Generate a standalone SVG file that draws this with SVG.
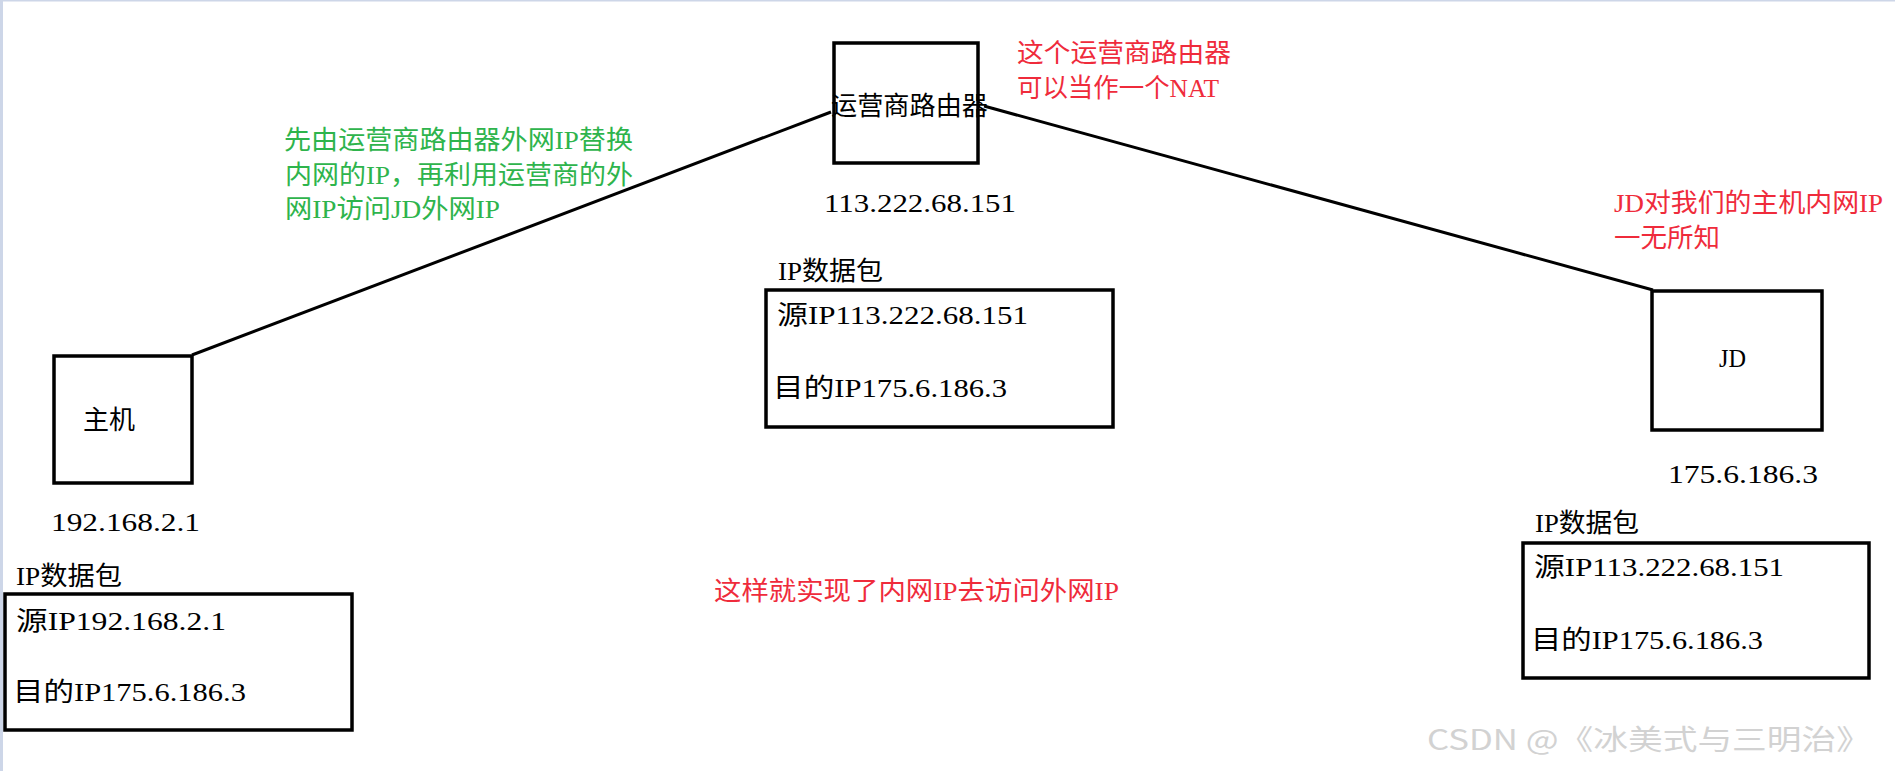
<svg xmlns="http://www.w3.org/2000/svg" width="1895" height="771" viewBox="0 0 1895 771">
<style>
.t{font-family:"Liberation Serif","Noto Sans CJK SC",serif;font-size:26px;fill:#000}
.g{fill:#2eb44c}
.r{fill:#ef2b3b}
.box{fill:none;stroke:#000;stroke-width:3.5}
.ln{stroke:#000;stroke-width:3;fill:none}
.wm{font-family:"Noto Sans CJK SC","Liberation Sans",sans-serif;font-size:28px;fill:#d2d2d2}
</style>
<rect x="0" y="0" width="1895" height="771" fill="#fff"/>
<rect x="0" y="0" width="3" height="771" fill="#cdd6e8"/>
<rect x="0" y="0" width="1895" height="1.5" fill="#cdd6e8"/>
<g id="connectors">
<line class="ln" x1="192" y1="355" x2="831" y2="112"/>
<line class="ln" x1="984" y1="106" x2="1653" y2="290"/>
</g>
<g id="host">
<rect class="box" x="54" y="356" width="138" height="127"/>
<text class="t" x="83" y="429" textLength="52" lengthAdjust="spacingAndGlyphs">主机</text>
<text class="t" x="51" y="531" textLength="149" lengthAdjust="spacingAndGlyphs">192.168.2.1</text>
</g>
<g id="router">
<rect class="box" x="834" y="43" width="144" height="120"/>
<text class="t" x="831" y="115" textLength="157" lengthAdjust="spacingAndGlyphs">运营商路由器</text>
<text class="t" x="824" y="212" textLength="192" lengthAdjust="spacingAndGlyphs">113.222.68.151</text>
</g>
<g id="jd">
<rect class="box" x="1652" y="291" width="170" height="139"/>
<text class="t" x="1719" y="367" textLength="27" lengthAdjust="spacingAndGlyphs">JD</text>
<text class="t" x="1668" y="483" textLength="150" lengthAdjust="spacingAndGlyphs">175.6.186.3</text>
</g>
<g id="note-green">
<text class="t g" x="284" y="149" textLength="349" lengthAdjust="spacingAndGlyphs">先由运营商路由器外网IP替换</text>
<text class="t g" x="285" y="184" textLength="348" lengthAdjust="spacingAndGlyphs">内网的IP，再利用运营商的外</text>
<text class="t g" x="285" y="218" textLength="215" lengthAdjust="spacingAndGlyphs">网IP访问JD外网IP</text>
</g>
<g id="note-router">
<text class="t r" x="1017" y="62" textLength="214" lengthAdjust="spacingAndGlyphs">这个运营商路由器</text>
<text class="t r" x="1017" y="97" textLength="202" lengthAdjust="spacingAndGlyphs">可以当作一个NAT</text>
</g>
<g id="note-jd">
<text class="t r" x="1614" y="212" textLength="269" lengthAdjust="spacingAndGlyphs">JD对我们的主机内网IP</text>
<text class="t r" x="1614" y="247" textLength="106" lengthAdjust="spacingAndGlyphs">一无所知</text>
</g>
<g id="note-bottom">
<text class="t r" x="714" y="600" textLength="405" lengthAdjust="spacingAndGlyphs">这样就实现了内网IP去访问外网IP</text>
</g>
<g id="packet-host">
<text class="t" x="16" y="585" textLength="106" lengthAdjust="spacingAndGlyphs">IP数据包</text>
<rect class="box" x="5" y="594" width="347" height="136"/>
<text class="t" x="16" y="630" textLength="210" lengthAdjust="spacingAndGlyphs">源IP192.168.2.1</text>
<text class="t" x="13" y="701" textLength="233" lengthAdjust="spacingAndGlyphs">目的IP175.6.186.3</text>
</g>
<g id="packet-router">
<text class="t" x="778" y="280" textLength="105" lengthAdjust="spacingAndGlyphs">IP数据包</text>
<rect class="box" x="766" y="290" width="347" height="137"/>
<text class="t" x="777" y="324" textLength="251" lengthAdjust="spacingAndGlyphs">源IP113.222.68.151</text>
<text class="t" x="773" y="397" textLength="234" lengthAdjust="spacingAndGlyphs">目的IP175.6.186.3</text>
</g>
<g id="packet-jd">
<text class="t" x="1535" y="532" textLength="104" lengthAdjust="spacingAndGlyphs">IP数据包</text>
<rect class="box" x="1523" y="543" width="346" height="135"/>
<text class="t" x="1534" y="576" textLength="250" lengthAdjust="spacingAndGlyphs">源IP113.222.68.151</text>
<text class="t" x="1531" y="649" textLength="232" lengthAdjust="spacingAndGlyphs">目的IP175.6.186.3</text>
</g>
<text class="wm" x="1427" y="750" textLength="444" lengthAdjust="spacingAndGlyphs">CSDN @《冰美式与三明治》</text>
</svg>
